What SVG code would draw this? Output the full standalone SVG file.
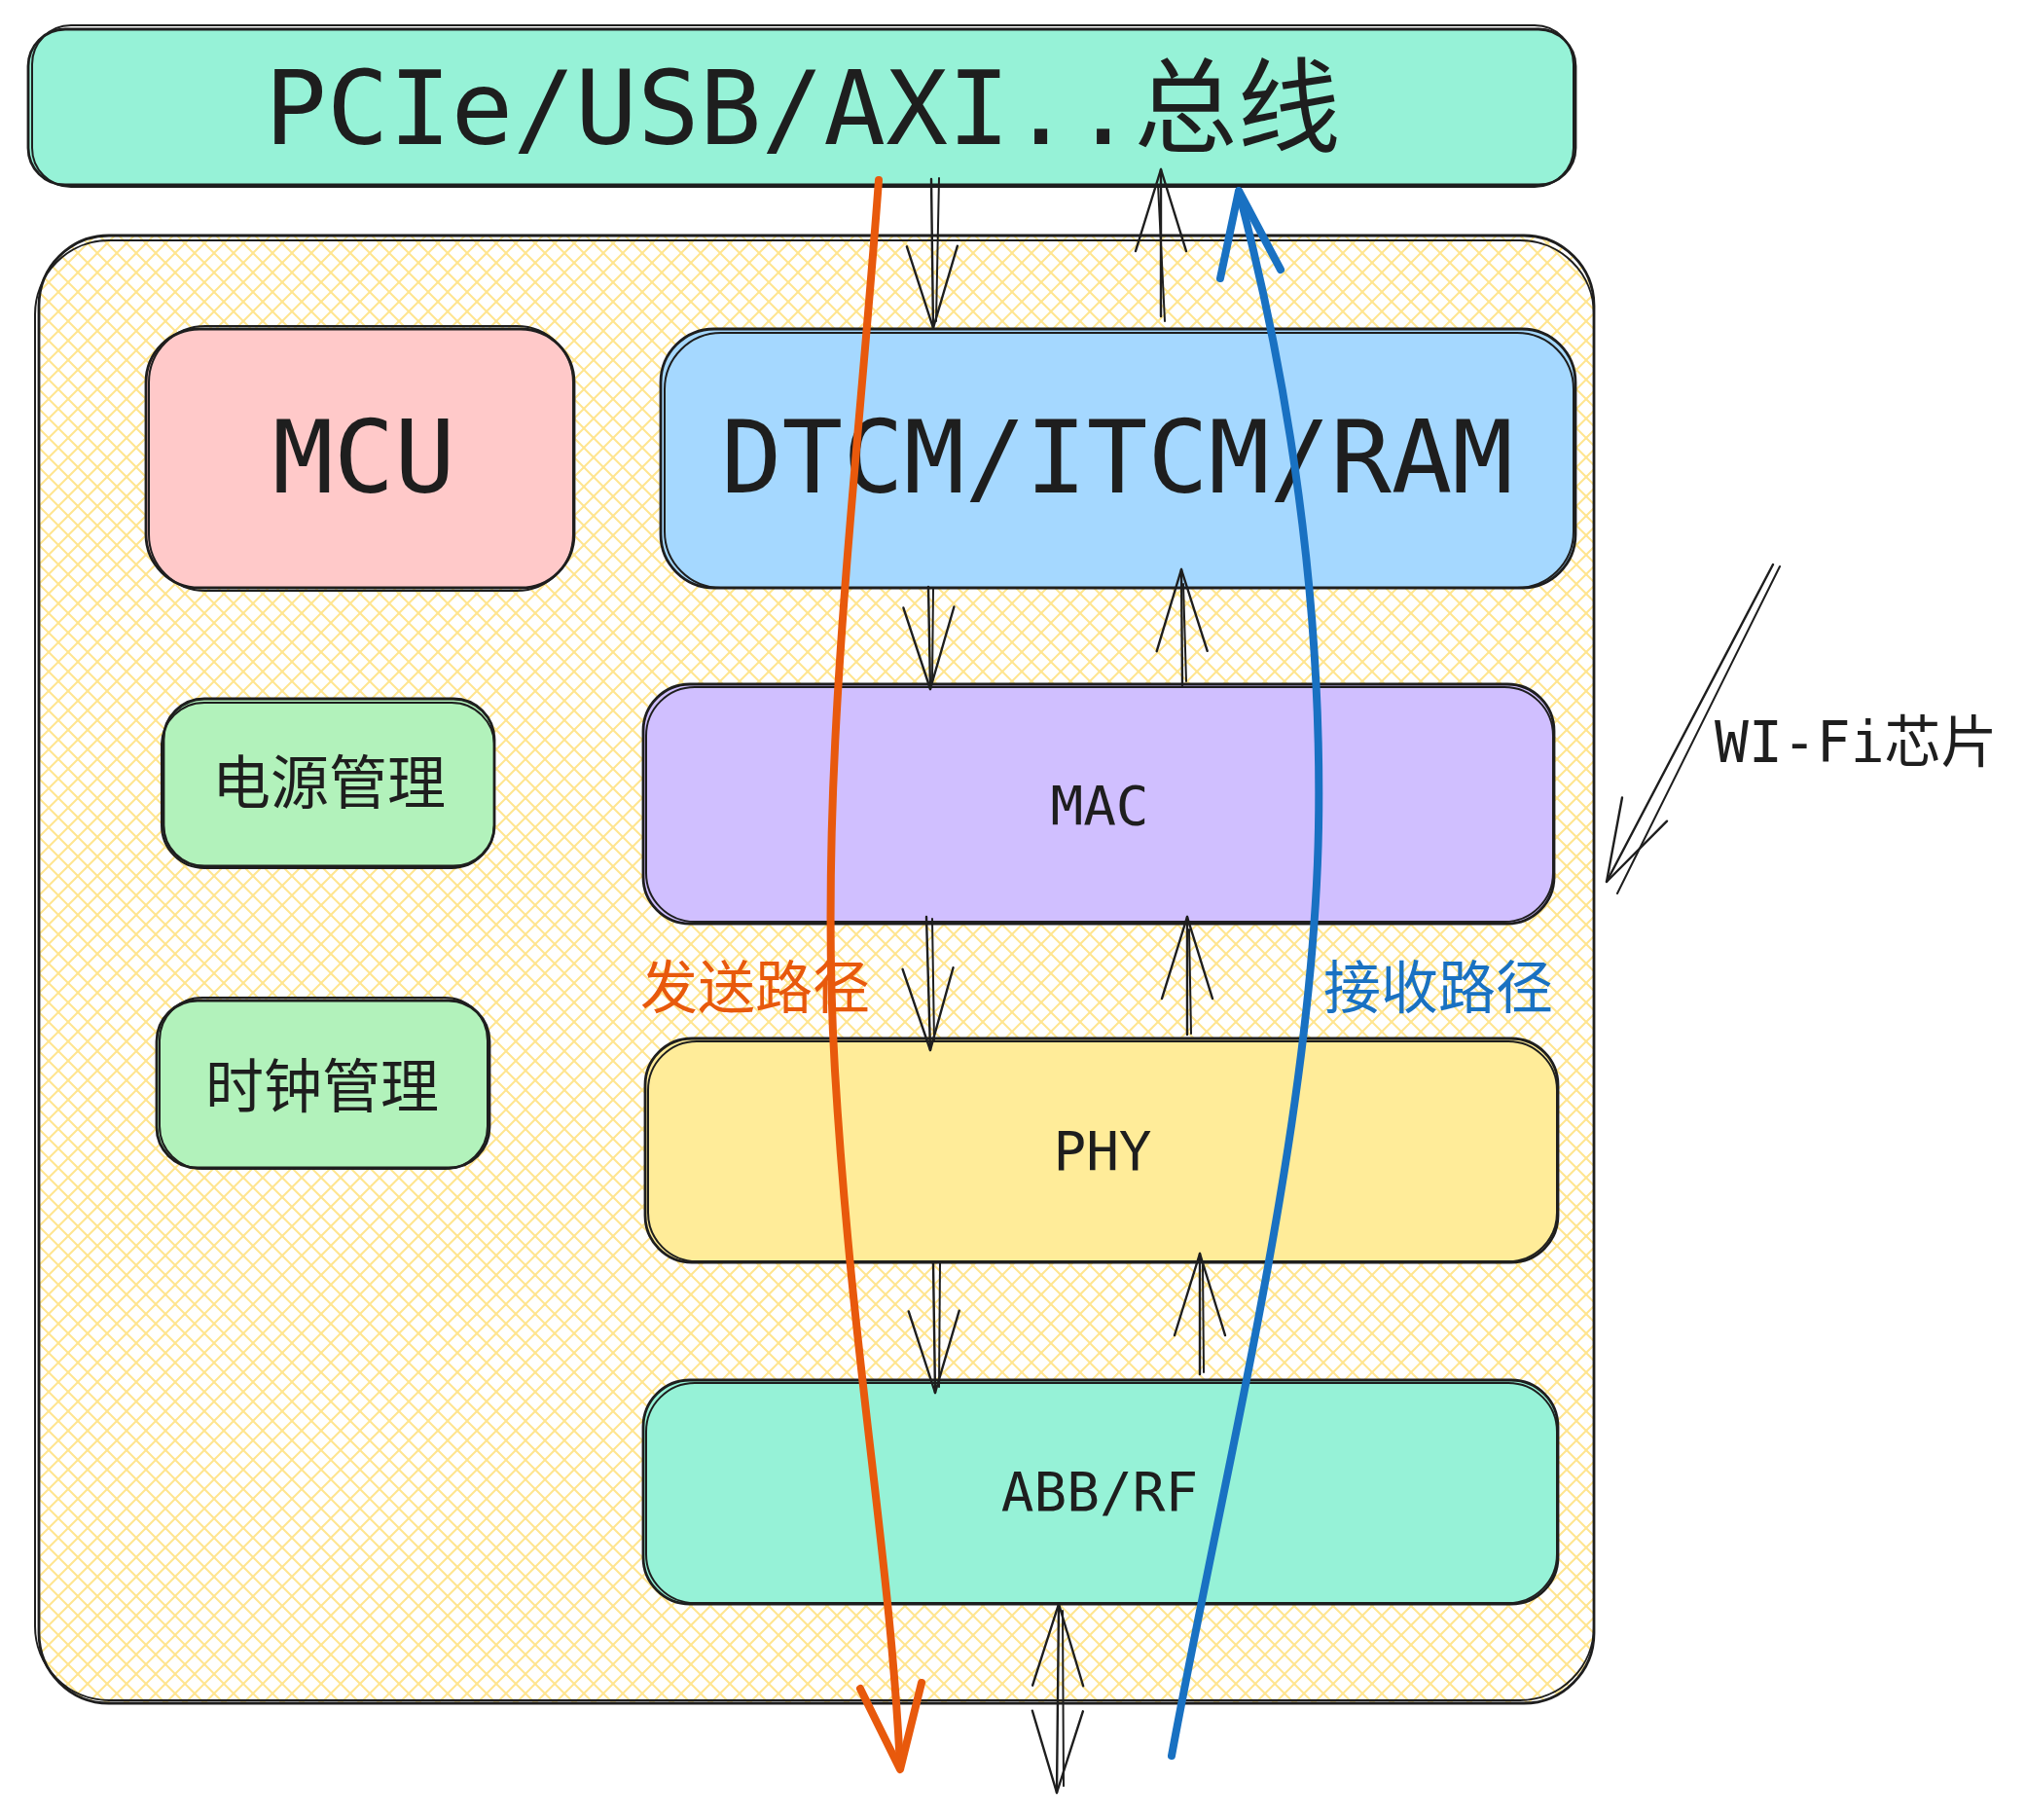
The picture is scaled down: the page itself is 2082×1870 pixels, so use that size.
<svg xmlns="http://www.w3.org/2000/svg" width="2082" height="1870" viewBox="0 0 2082 1870">
<defs>
<style>
.box{stroke:#1e1e1e;stroke-width:2.8;}
.sk{fill:none;stroke:#1e1e1e;stroke-width:2;}
.mono{font-family:"DejaVu Sans Mono","Liberation Mono","Noto Sans CJK SC",monospace;fill:#1e1e1e;}
.cjk{font-family:"Noto Sans CJK SC","Noto Sans",sans-serif;}
.ln{fill:none;stroke:#1e1e1e;stroke-width:2.4;stroke-linecap:round;}
.ln2{fill:none;stroke:#1e1e1e;stroke-width:2;stroke-linecap:round;}
.path{fill:none;stroke-width:8;stroke-linecap:round;stroke-linejoin:round;}
</style>
<pattern id="hatch" patternUnits="userSpaceOnUse" width="20" height="20">
<path d="M-5,5 L5,-5 M0,20 L20,0 M15,25 L25,15" stroke="#ffe590" stroke-width="2"/>
<path d="M-5,15 L5,25 M0,0 L20,20 M15,-5 L25,5" stroke="#ffe590" stroke-width="2"/>
</pattern>
<marker id="ah" viewBox="0 0 90 60" refX="86" refY="30" markerWidth="90" markerHeight="60" markerUnits="userSpaceOnUse" orient="auto-start-reverse">
<path d="M2,4 L86,30 L2,56" fill="none" stroke="#1e1e1e" stroke-width="2.4" stroke-linejoin="round" stroke-linecap="round"/>
</marker>
</defs>
<rect width="2082" height="1870" fill="#ffffff"/>

<g id="wifi-chip">
<rect x="40" y="242" width="1598" height="1508" rx="72" fill="url(#hatch)"/>
<rect class="box" x="40" y="242" width="1598" height="1508" rx="72" fill="none"/>
<rect class="sk" x="36" y="247" width="1602" height="1500" rx="76"/>
</g>

<g id="bus">
<rect class="box" x="29" y="30" width="1590" height="160" rx="38" fill="#96f2d7"/>
<rect class="sk" x="33" y="26" width="1584" height="166" rx="40"/>
<text class="mono" x="272" y="148" font-size="106">PCIe/USB/AXI..<tspan class="cjk">总线</tspan></text>
</g>

<g id="mcu">
<rect class="box" x="150" y="338" width="440" height="266" rx="55" fill="#ffc9c9"/>
<rect class="sk" x="153" y="335" width="436" height="272" rx="58"/>
<text class="mono" x="374" y="506" font-size="104" text-anchor="middle">MCU</text>
</g>

<g id="dtcm">
<rect class="box" x="679" y="338" width="940" height="266" rx="55" fill="#a5d8ff"/>
<rect class="sk" x="683" y="342" width="934" height="262" rx="58"/>
<text class="mono" x="1148" y="506" font-size="104" text-anchor="middle">DTCM/ITCM/RAM</text>
</g>

<g id="power">
<rect class="box" x="168" y="718" width="340" height="172" rx="42" fill="#b2f2bb"/>
<rect class="sk" x="166" y="722" width="342" height="170" rx="44"/>
<text class="cjk" x="338" y="826" font-size="60" fill="#1e1e1e" text-anchor="middle">电源管理</text>
</g>

<g id="clock">
<rect class="box" x="161" y="1028" width="342" height="172" rx="42" fill="#b2f2bb"/>
<rect class="sk" x="164" y="1025" width="337" height="176" rx="44"/>
<text class="cjk" x="331" y="1138" font-size="60" fill="#1e1e1e" text-anchor="middle">时钟管理</text>
</g>

<g id="mac">
<rect class="box" x="661" y="703" width="936" height="246" rx="48" fill="#d0bfff"/>
<rect class="sk" x="664" y="706" width="932" height="241" rx="50"/>
<text class="mono" x="1130" y="847" font-size="56" text-anchor="middle">MAC</text>
</g>

<g id="phy">
<rect class="box" x="663" y="1067" width="938" height="230" rx="48" fill="#ffec99"/>
<rect class="sk" x="666" y="1070" width="934" height="226" rx="50"/>
<text class="mono" x="1133" y="1202" font-size="56" text-anchor="middle">PHY</text>
</g>

<g id="abb-rf">
<rect class="box" x="661" y="1418" width="940" height="230" rx="48" fill="#96f2d7"/>
<rect class="sk" x="664" y="1421" width="936" height="226" rx="50"/>
<text class="mono" x="1130" y="1552" font-size="56" text-anchor="middle">ABB/RF</text>
</g>

<g id="labels">
<text class="cjk" x="776" y="1036" font-size="59" fill="#e8590c" text-anchor="middle">发送路径</text>
<text class="cjk" x="1478" y="1036" font-size="59" fill="#1971c2" text-anchor="middle">接收路径</text>
<text class="mono" x="1762" y="783" font-size="58">WI-Fi<tspan class="cjk">芯片</tspan></text>
</g>

<g id="connectors">
<path class="ln" d="M957,184 L959,337" marker-end="url(#ah)"/>
<path class="ln2" d="M965,183 L962,330"/>
<path class="ln" d="M1193,325 L1193,174" marker-end="url(#ah)"/>
<path class="ln2" d="M1197,330 L1190,190"/>
<path class="ln" d="M954,603 L956,708" marker-end="url(#ah)"/>
<path class="ln2" d="M959,605 L958,700"/>
<path class="ln" d="M1215,704 L1214,585" marker-end="url(#ah)"/>
<path class="ln2" d="M1219,700 L1216,600"/>
<path class="ln" d="M952,942 L956,1079" marker-end="url(#ah)"/>
<path class="ln2" d="M958,944 L960,1070"/>
<path class="ln" d="M1220,1063 L1220,942" marker-end="url(#ah)"/>
<path class="ln2" d="M1224,1062 L1222,955"/>
<path class="ln" d="M959,1298 L961,1431" marker-end="url(#ah)"/>
<path class="ln2" d="M966,1297 L965,1425"/>
<path class="ln" d="M1233,1412 L1233,1288" marker-end="url(#ah)"/>
<path class="ln2" d="M1237,1410 L1236,1300"/>
<path class="ln" d="M1086,1842 L1088,1648" marker-start="url(#ah)" marker-end="url(#ah)"/>
<path class="ln2" d="M1093,1835 L1092,1655"/>
<path class="ln" d="M1822,580 L1651,906" marker-end="url(#ah)"/>
<path class="ln2" d="M1829,582 L1662,918"/>
<path class="path" stroke="#e8590c" d="M903,185 C880,500 840,800 858,1100 S915,1600 925,1816"/>
<path class="path" stroke="#e8590c" d="M884,1735 L925,1818 L947,1729"/>
<path class="path" stroke="#1971c2" d="M1204,1804 C1260,1500 1350,1150 1355,850 S1300,300 1273,197"/>
<path class="path" stroke="#1971c2" d="M1254,286 L1273,196 L1316,277"/>
</g>
</svg>
